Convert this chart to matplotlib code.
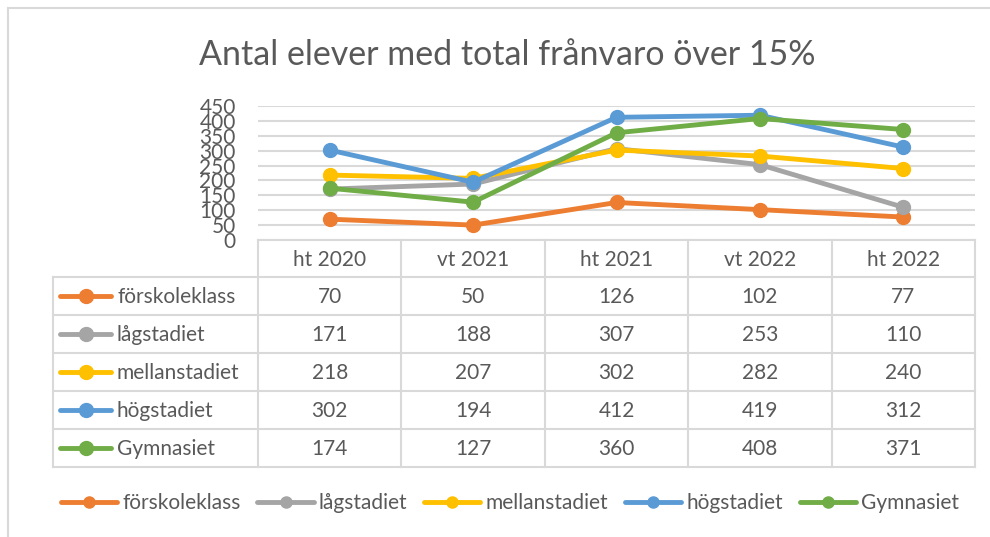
import matplotlib.pyplot as plt

plt.rcParams['font.family'] = ['Lato', 'DejaVu Sans']

# Data
periods = ['ht 2020', 'vt 2021', 'ht 2021', 'vt 2022', 'ht 2022']
series_names = ['förskoleklass', 'lågstadiet', 'mellanstadiet', 'högstadiet', 'Gymnasiet']
forskoleklass = [70, 50, 126, 102, 77]
lagstadiet = [171, 188, 307, 253, 110]
mellanstadiet = [218, 207, 302, 282, 240]
hogstadiet = [302, 194, 412, 419, 312]
gymnasiet = [174, 127, 360, 408, 371]
all_values = [forskoleklass, lagstadiet, mellanstadiet, hogstadiet, gymnasiet]
colors = ['#ED7D31', '#A5A5A5', '#FFC000', '#5B9BD5', '#70AD47']

text_col = '#595959'
grid_col = '#D9D9D9'
W, H = 990, 537
fs = 15

fig = plt.figure(figsize=(W / 100, H / 100), dpi=100)

# background axes in pixel coordinates for table / frame
bg = fig.add_axes([0, 0, 1, 1])
bg.set_xlim(0, W)
bg.set_ylim(H, 0)
bg.axis('off')

# chart border (left and top visible)
bg.plot([8, 8], [8, H], color=grid_col, lw=1.5)
bg.plot([8, W], [8, 8], color=grid_col, lw=1.5)

# title
bg.text(507, 55, 'Antal elever med total frånvaro över 15%', ha='center', va='center',
        fontsize=24.5, color=text_col)

# plot area
x0, x1, ytop, ybot = 258, 975, 106, 240
ax = fig.add_axes([x0 / W, 1 - ybot / H, (x1 - x0) / W, (ybot - ytop) / H])
ax.patch.set_alpha(0)
for i, vals in enumerate(all_values):
    ax.plot(range(len(periods)), vals, color=colors[i], lw=3.5, marker='o', ms=10,
            solid_capstyle='round', label=series_names[i])
ax.set_xlim(-0.5, len(periods) - 0.5)
ax.set_ylim(0, 450)
ax.set_yticks(range(0, 451, 50))
ax.set_xticks([])
ax.tick_params(axis='y', length=0, pad=16, labelsize=fs, labelcolor=text_col)
ax.yaxis.grid(True, color=grid_col, lw=1.5)
ax.set_axisbelow(True)
for s in ax.spines.values():
    s.set_visible(False)

# data table
col_w = (x1 - x0) / len(periods)
row_top = 240
head_h = 37
row_h = 38
tab_left = 53
rows_top = row_top + head_h
tab_bot = rows_top + row_h * len(series_names)

lw_t = 1.5
bg.plot([x0, x1], [row_top, row_top], color=grid_col, lw=lw_t)
for j in range(len(periods) + 1):
    xx = x0 + j * col_w
    bg.plot([xx, xx], [row_top, tab_bot], color=grid_col, lw=lw_t)
bg.plot([tab_left, tab_left], [rows_top, tab_bot], color=grid_col, lw=lw_t)
for r in range(len(series_names) + 1):
    yy = rows_top + r * row_h
    bg.plot([tab_left, x1], [yy, yy], color=grid_col, lw=lw_t)

for j, p in enumerate(periods):
    bg.text(x0 + (j + 0.5) * col_w, row_top + head_h / 2 + 1, p, ha='center', va='center',
            fontsize=fs, color=text_col)

for r, name in enumerate(series_names):
    yc = rows_top + (r + 0.5) * row_h
    bg.plot([60, 111], [yc, yc], color=colors[r], lw=3.5, solid_capstyle='round')
    bg.plot([86], [yc], marker='o', ms=10, color=colors[r])
    bg.text(117, yc + 1, name, ha='left', va='center', fontsize=fs, color=text_col)
    for j, v in enumerate(all_values[r]):
        bg.text(x0 + (j + 0.5) * col_w, yc + 1, str(v), ha='center', va='center',
                fontsize=fs, color=text_col)

# legend
handles, labels = ax.get_legend_handles_labels()
fig.legend(handles, labels, loc='center', bbox_to_anchor=(510 / W, 1 - 503 / H), ncol=5,
           frameon=False, fontsize=fs, labelcolor=text_col, handlelength=2.7,
           handletextpad=0.25, columnspacing=0.8, markerscale=0.8)

fig.savefig('out.png', dpi=100)
